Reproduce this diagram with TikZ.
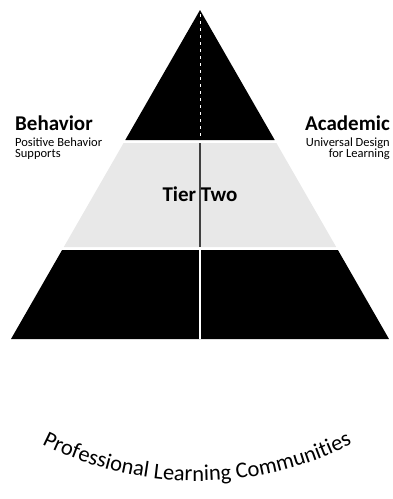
\documentclass[tikz,border=0pt]{standalone}
\usepackage{fontspec}
\setmainfont{Carlito}
\usetikzlibrary{decorations.text}
\begin{document}
\begin{tikzpicture}[x=1pt,y=-1pt,
  title/.style={font=\bfseries\fontsize{21}{22}\selectfont, inner sep=0pt},
  sub/.style={font=\fontsize{12.5}{13}\selectfont, inner sep=0pt}]
\useasboundingbox (0,0) rectangle (393,499);
% tiers
\fill[black] (200,10) -- (274.7,140) -- (125.3,140) -- cycle;
\fill[gray!18] (123.6,143) -- (276.4,143) -- (336.2,247) -- (63.8,247) -- cycle;
\fill[black] (62.1,250) -- (337.9,250) -- (389,339) -- (11,339) -- cycle;
% dividers
\draw[white, dash pattern=on 3pt off 4pt, line width=0.7pt] (200,14) -- (200,139);
\draw[black!75, line width=1.2pt] (200,143) -- (200,247);
\draw[white, line width=1.8pt] (200,250) -- (200,339);
% labels
\node[title, anchor=base west] (beh) at (15,130) {Behavior};
\node[sub, anchor=base west] (behsub1) at (15,146) {Positive Behavior};
\node[sub, anchor=base west] (behsub2) at (15,157) {Supports};
\node[title, anchor=base east] (aca) at (390,130) {Academic};
\node[sub, anchor=base east] (acasub1) at (390,146.5) {Universal Design};
\node[sub, anchor=base east] (acasub2) at (390,157) {for Learning};
\node[title, font=\bfseries\fontsize{21}{22}\selectfont, anchor=base] (tier) at (200,201) {Tier Two};
% arc text
\path[decorate, decoration={text along path, text align=center,
  text={|\fontsize{22.5}{22.5}\selectfont|Professional Learning Communities}}]
  (197,136) ++(117:345) arc[start angle=117, end angle=63, radius=345];
\end{tikzpicture}
\end{document}
